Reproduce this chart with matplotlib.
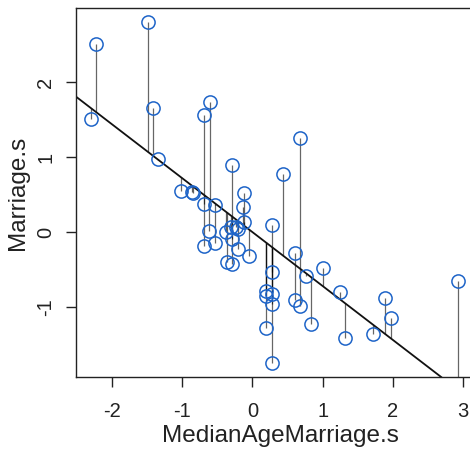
import matplotlib
matplotlib.use("Agg")
import matplotlib.pyplot as plt
import numpy as np

plt.rcParams['font.family'] = ['Liberation Sans', 'DejaVu Sans']

# standardized median age at marriage (x) and marriage rate (y)
age_s = [-2.22, -2.29, -1.49, -1.415, -1.335, -1.01, -0.86, -0.845,
         -0.69, -0.605, -0.288, -0.122, -0.128, -0.122, -0.69, -0.525,
         -0.61, -0.69, -0.525, -0.374, -0.30, -0.284, -0.23, -0.20,
         -0.203, -0.047, -0.364, -0.288, 0.28, 0.284, 0.19, 0.19,
         0.284, 0.28, 0.195, 0.275, 0.60, 0.60, 0.68, 0.76,
         0.84, 1.0, 1.24, 1.32, 1.72, 1.89, 1.97, 2.93,
         0.68, 0.436]
marriage_s = [2.51, 1.51, 2.80, 1.66, 0.97, 0.55, 0.54, 0.52,
              1.56, 1.73, 0.89, 0.52, 0.34, 0.13, 0.37, 0.36,
              0.02, -0.19, -0.14, 0.0, 0.07, -0.09, 0.07, 0.04,
              -0.22, -0.32, -0.40, -0.43, 0.10, -0.53, -0.78, -0.85,
              -0.82, -0.96, -1.28, -1.75, -0.28, -0.91, -0.99, -0.59,
              -1.22, -0.48, -0.80, -1.41, -1.36, -0.88, -1.15, -0.65,
              1.26, 0.78]

# fitted regression of marriage rate on age
intercept = 0.0
slope = -0.72

x_ticks = [-2, -1, 0, 1, 2, 3]
y_ticks = [-1, 0, 1, 2]

x = np.array(age_s)
y = np.array(marriage_s)
mu = intercept + slope * x

fig = plt.figure(figsize=(4.7, 4.5), dpi=100)
ax = fig.add_axes([76/470, 73/450, (485-76)/470, (377-8)/450])
ax.set_xlim(-2.507, 3 + (485 - 463.3) / 70.4)
ax.set_ylim(-1.933, 2.987)

ax.axline((0, intercept), slope=slope, color='#111111', lw=1.3, zorder=2)
ax.vlines(x, mu, y, colors='black', alpha=0.6, lw=0.9, zorder=1)
ax.plot(x, y, 'o', mfc='none', mec='#1E64C8', ms=9.5, mew=1.1, zorder=3)

ax.set_xticks(x_ticks)
ax.set_yticks(y_ticks)
ax.set_xticklabels([str(t) for t in x_ticks])
ax.set_yticklabels([str(t) for t in y_ticks], rotation=90, va='center')
ax.tick_params(direction='out', length=7, width=1, labelsize=14.5,
               colors='#222222')
ax.tick_params(axis='x', pad=11)
ax.tick_params(axis='y', pad=8)
for s in ax.spines.values():
    s.set_color('#222222')
    s.set_linewidth(1)
ax.spines['right'].set_visible(False)
ax.set_xlabel('MedianAgeMarriage.s', fontsize=17.5, color='#222222', labelpad=3)
ax.set_ylabel('Marriage.s', fontsize=17.5, color='#222222', labelpad=5)

fig.savefig('out.png', dpi=100)
